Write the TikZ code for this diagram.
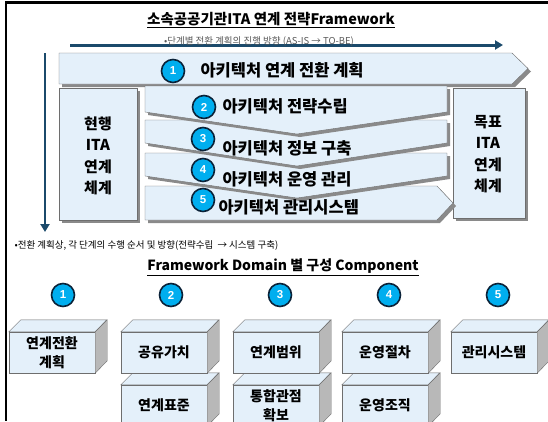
\documentclass[tikz,border=0pt]{standalone}
\usepackage{fontspec}
\setmainfont{Noto Sans CJK KR}
\newfontfamily\numfont{Liberation Sans}
\usetikzlibrary{arrows.meta,shadows}
\definecolor{bandblue}{HTML}{E4F0FA}
\definecolor{edgegray}{HTML}{6E6E6E}
\definecolor{shadegray}{HTML}{8A8A8A}
\definecolor{sidegray}{HTML}{B8B8B8}
\definecolor{flowblue}{HTML}{1B4A6B}
\definecolor{numblue}{HTML}{00AEEF}
\definecolor{numedge}{HTML}{0A2238}

% front face of a component block, with its top and right faces
\newcommand{\compbox}[4]{%
  \node[comp] (#3) at (#1,#2) {#4};
  \draw[edgegray,fill=bandblue] (#3.north west) -- ++(12,-12) -- ++(86,0) -- (#3.north east) -- cycle;
  \draw[edgegray,fill=sidegray] (#3.north east) -- ++(12,-12) -- ++(0,41) -- (#3.south east) -- cycle;
}

\begin{document}
\begin{tikzpicture}[x=1pt,y=-1pt,
  band/.style={draw=edgegray,fill=bandblue,
    drop shadow={shadow xshift=3pt,shadow yshift=-3pt,fill=shadegray,opacity=1}},
  num/.style={circle,draw=numedge,line width=1.6pt,fill=numblue,text=white,
    font=\numfont\bfseries\fontsize{11.5}{11.5}\selectfont,minimum size=23pt,inner sep=0pt},
  lbl/.style={anchor=west,font=\bfseries\fontsize{16.5}{16.5}\selectfont},
  side/.style={align=center,font=\bfseries\fontsize{15}{21.5}\selectfont},
  comp/.style={draw=edgegray,fill=bandblue,minimum width=86pt,minimum height=41pt,
    inner sep=0pt,align=center,font=\bfseries\fontsize{14}{19}\selectfont},
  note/.style={font=\fontsize{9.5}{10}\selectfont}]
\useasboundingbox (0,0) rectangle (548,421);

% frame
\draw[line width=2.5pt] (548,2.5) -- (6,2.5) -- (6,421);

% upper part
\node (title) at (271,20) {\bfseries\fontsize{14.5}{14.5}\selectfont\underline{소속공공기관ITA 연계 전략Framework}};
\coordinate (hs) at (70,45);
\coordinate (he) at (503,45);
\draw[flowblue,line width=3pt,-{Triangle[length=8pt,width=9pt]}] (hs) -- (he);
\node[note,text=gray!70!black] (asis) at (259,41) {•단계별 전환 계획의 진행 방향 (AS-IS → TO-BE)};
\coordinate (vs) at (45,53);
\coordinate (ve) at (45,232);
\draw[flowblue,line width=2.6pt,-{Triangle[length=8pt,width=9pt]}] (vs) -- (ve);

\path[band] (59,53) -- (512,53) -- (528,68.5) -- (512,84) -- (59,84) -- cycle;
\path[band] (59,88) rectangle (137,220);
\path[band] (453,88) rectangle (525,218);

\path[band] (145,186) -- (437,186) -- (453,203) -- (437,220) -- (145,220) -- cycle;
\path[band] (145,153) -- (447,153) -- (447,176) -- (297,198) -- (145,176) -- cycle;
\path[band] (145,120) -- (447,120) -- (447,143) -- (297,166) -- (145,143) -- cycle;
\path[band] (145,86) -- (447,86) -- (447,112) -- (297,134) -- (145,112) -- cycle;

\node[side] (asisbox) at (98,156) {현행\\ITA\\연계\\체계};
\node[side] (tobebox) at (488,154) {목표\\ITA\\연계\\체계};

\node[num] (n1) at (173,71) {1};
\node[lbl] (s1) at (197,70) {아키텍처 연계 전환 계획};
\node[num] (n2) at (204,107) {2};
\node[lbl] (s2) at (219,106) {아키텍처 전략수립};
\node[num] (n3) at (203,139) {3};
\node[lbl] (s3) at (219,148) {아키텍처 정보 구축};
\node[num] (n4) at (203,170) {4};
\node[lbl] (s4) at (219,179) {아키텍처 운영 관리};
\node[num] (n5) at (203,200) {5};
\node[lbl] (s5) at (215,207) {아키텍처 관리시스템};

\node[note,anchor=west] (order) at (11,245) {•전환 계획상, 각 단계의 수행 순서 및 방향(전략수립 \ → 시스템 구축)};

% lower part
\node (domain) at (283,267) {\bfseries\fontsize{14}{14}\selectfont\underline{Framework Domain 별 구성 Component}};
\foreach \i/\x in {1/63,2/171,3/280,4/389,5/498}
  \node[num] (d\i) at (\x,295) {\i};

\compbox{164}{405.5}{b2}{연계표준}
\compbox{276}{405.5}{b3}{통합관점\\확보}
\compbox{385}{405.5}{b4}{운영조직}
\compbox{52}{352.5}{a1}{연계전환\\계획}
\compbox{164}{352.5}{a2}{공유가치}
\compbox{276}{352.5}{a3}{연계범위}
\compbox{385}{352.5}{a4}{운영절차}
\compbox{494}{352.5}{a5}{관리시스템}
\end{tikzpicture}
\end{document}
